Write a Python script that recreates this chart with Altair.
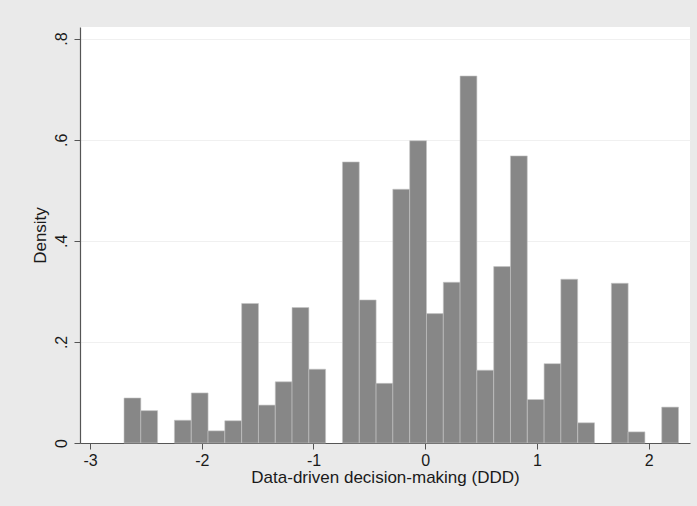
import altair as alt
import pandas as pd

# Histogram of the DDD index: left bin edges, common bin width and density per bin
bin_left = [-2.696, -2.546, -2.395, -2.245, -2.094, -1.944, -1.794, -1.643,
            -1.493, -1.342, -1.192, -1.042, -0.891, -0.741, -0.590, -0.440,
            -0.290, -0.139, 0.011, 0.162, 0.312, 0.462, 0.613, 0.763,
            0.914, 1.064, 1.214, 1.365, 1.515, 1.666, 1.816, 1.966, 2.117]
bin_width = 0.1504
density = [0.089, 0.064, 0.0, 0.045, 0.099, 0.024, 0.044, 0.276,
           0.075, 0.121, 0.268, 0.146, 0.0, 0.556, 0.283, 0.118,
           0.502, 0.598, 0.256, 0.318, 0.726, 0.144, 0.349, 0.568,
           0.086, 0.157, 0.324, 0.040, 0.0, 0.316, 0.022, 0.0, 0.071]

x_ticks = [-3, -2, -1, 0, 1, 2]
y_ticks = [0, 0.2, 0.4, 0.6, 0.8]

df = pd.DataFrame({"left": bin_left, "density": density})
df["right"] = df["left"] + bin_width
df = df[df["density"] > 0]

FONT = "Liberation Sans"

bars = alt.Chart(df).mark_rect(
    color="#878787", stroke="#c4c4c4", strokeWidth=0.6
).encode(
    x=alt.X(
        "left:Q",
        scale=alt.Scale(domain=[-3.09, 2.37], nice=False, zero=False),
        axis=alt.Axis(
            values=x_ticks,
            title="Data-driven decision-making (DDD)",
            labelExpr="datum.value < 0 ? '-' + abs(datum.value) : '' + datum.value",
            grid=False,
            tickSize=6,
            labelPadding=3,
            titlePadding=1,
            labelFontSize=16,
            titleFontSize=17,
        ),
    ),
    x2="right:Q",
    y=alt.Y(
        "density:Q",
        scale=alt.Scale(domain=[0, 0.823], nice=False),
        axis=alt.Axis(
            values=y_ticks,
            title="Density",
            labelExpr="datum.value == 0 ? '0' : replace(format(datum.value, '.1f'), '0.', '.')",
            labelAngle=270,
            labelAlign="center",
            labelBaseline="bottom",
            labelPadding=5,
            tickSize=6,
            titlePadding=4,
            labelFontSize=16,
            titleFontSize=17,
            grid=True,
            gridColor="#f0f0f0",
            gridWidth=1,
        ),
    ),
    y2=alt.datum(0),
)

chart = bars.properties(
    width=610,
    height=416,
    padding={"left": 80, "top": 27, "right": 7, "bottom": 63},
    autosize=alt.AutoSizeParams(type="none"),
    background="#eaeaea",
).configure_view(
    fill="white", stroke=None
).configure_axis(
    labelFont=FONT,
    titleFont=FONT,
    labelColor="#1a1a1a",
    titleColor="#1a1a1a",
    titleFontWeight="normal",
    domainColor="#555555",
    tickColor="#555555",
    domainWidth=1.2,
)

chart.save("out.html", embed_options={"renderer": "svg", "actions": False})
